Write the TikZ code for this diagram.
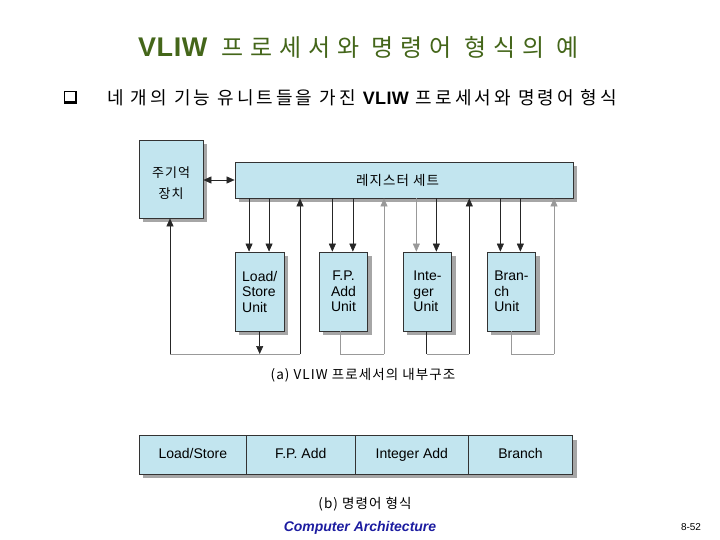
\documentclass[tikz,border=0pt]{standalone}
\usepackage{fontspec}
\setmainfont{Liberation Sans}
\newfontfamily\kr{Noto Sans CJK KR}
\newfontfamily\krwide{Noto Sans CJK KR}[LetterSpace=8]
\newfontfamily\krtitle{Noto Sans CJK KR}[LetterSpace=29]
\newfontfamily\krbul{Noto Sans CJK KR}[LetterSpace=17]
\newfontfamily\latb{Liberation Sans}[LetterSpace=2]
\usetikzlibrary{arrows.meta,calc,shadows}
\definecolor{boxfill}{HTML}{C2E5EF}
\definecolor{shadowgray}{HTML}{A6A6A6}
\definecolor{titlegreen}{HTML}{44661A}
\definecolor{footblue}{HTML}{1C1CA0}
\tikzset{
  shad/.style={drop shadow={shadow xshift=4pt, shadow yshift=-4pt, fill=shadowgray, opacity=1}},
  blk/.style={draw=black!80, fill=boxfill, inner sep=0pt, line width=0.8pt, shad},
  unitbox/.style={blk, minimum width=48.5pt, minimum height=79pt, font=\fontsize{14}{15.5}\selectfont},
  fmt/.style={draw=black!80, fill=boxfill, inner sep=0pt, line width=0.8pt, minimum height=38.6pt, text height=10pt, text depth=3pt, font=\fontsize{14}{16}\selectfont},
  dk/.style={draw=black!85, line width=0.6pt},
  lt/.style={draw=black!40, line width=0.6pt},
  arr/.style={-{Triangle[length=8pt,width=7pt]}},
  darr/.style={{Triangle[length=8pt,width=7pt]}-{Triangle[length=8pt,width=7pt]}},
}
\begin{document}
\begin{tikzpicture}[x=1pt,y=-1pt]
\useasboundingbox (0,0) rectangle (720,540);
% title and bullet
\node[anchor=west, inner sep=0pt, text=titlegreen] (title) at (138,47) {{\latb\bfseries\fontsize{27}{27}\selectfont VLIW}\hspace{14pt}{\krtitle\fontsize{24}{24}\selectfont 프로세서와 명령어 형식의 예}};
\fill[black] (64,91) rectangle (77,104);
\fill[white] (65,92) rectangle (74.5,101.5);
\node[anchor=west, inner sep=0pt, font=\krbul\fontsize{18}{18}\selectfont] (bul) at (107,98) {네 개의 기능 유니트들을 가진 {\latb\bfseries\fontsize{18}{18}\selectfont VLIW} 프로세서와 명령어 형식};
% main boxes
\node[blk, minimum width=64pt, minimum height=78pt] (mem) at (171,179) {};
\node[align=center, font=\krwide\fontsize{13}{21}\selectfont] (memt) at ([yshift=-4pt]mem.center) {주기억\\장치};
\node[blk, minimum width=338pt, minimum height=36pt] (reg) at (404,180) {};
\node[font=\krwide\fontsize{13.5}{13.5}\selectfont] (regt) at (397.5,180) {레지스터 세트};
\node[unitbox, align=left] (ls) at (259.7,291.5) {Load/\\Store\\Unit};
\node[unitbox, align=center] (fp) at (343.5,291.5) {F.P.\\Add\\Unit};
\node[unitbox, align=left] (int) at (427.5,291.5) {Inte-\\ger\\Unit};
\node[unitbox, align=left] (br) at (511.5,291.5) {Bran-\\ch\\Unit};
% memory <-> register
\draw[dk,darr] (reg.west -| mem.east) -- (reg.west);
% inputs
\coordinate (lsA) at ([xshift=14pt]ls.north west);
\coordinate (lsB) at ([xshift=34pt]ls.north west);
\coordinate (fpA) at ([xshift=13.5pt]fp.north west);
\coordinate (fpB) at ([xshift=34pt]fp.north west);
\coordinate (inA) at ([xshift=13.5pt]int.north west);
\coordinate (inB) at ([xshift=33.5pt]int.north west);
\coordinate (brA) at ([xshift=13.5pt]br.north west);
\coordinate (brB) at ([xshift=33.5pt]br.north west);
\draw[dk,arr] (lsA |- reg.south) -- (lsA);
\draw[dk,arr] (lsB |- reg.south) -- (lsB);
\draw[dk,arr] (fpA |- reg.south) -- (fpA);
\draw[dk,arr] (fpB |- reg.south) -- (fpB);
\draw[lt,arr] (inA |- reg.south) -- (inA);
\draw[dk,arr] (inB |- reg.south) -- (inB);
\draw[dk,arr] (brA |- reg.south) -- (brA);
\draw[dk,arr] (brB |- reg.south) -- (brB);
% bus and returns
\coordinate (m1) at (170,354);
\coordinate (r1) at (300,354);
\coordinate (r2) at (384,354);
\coordinate (r3) at (469.3,354);
\coordinate (r4) at (554,354);
\draw[lt] (m1) -- (r1);
\draw[dk,arr] (m1) -- (m1 |- mem.south);
\draw[dk,arr] (r1) -- (r1 |- reg.south);
\draw[dk,arr] (ls.south) -- (ls.south |- m1);
\coordinate (fpo) at ([xshift=-3pt]fp.south);
\draw[lt] (fpo) -- (fpo |- r2) -- (r2);
\draw[lt,arr] (r2) -- (r2 |- reg.south);
\coordinate (ino) at ([xshift=-1pt]int.south);
\draw[dk] (ino) -- (ino |- r3);
\draw[lt] (ino |- r3) -- (r3);
\draw[dk,arr] (r3) -- (r3 |- reg.south);
\draw[lt] (br.south) -- (br.south |- r4) -- (r4);
\draw[lt,arr] (r4) -- (r4 |- reg.south);
\node[font=\krwide\fontsize{13.5}{13.5}\selectfont] (capa) at (363,375) {(a) VLIW 프로세서의 내부구조};
% instruction format
\fill[shadowgray] (143.3,439.7) rectangle (576.7,478.3);
\node[fmt, minimum width=107pt] (f1) at (192.8,455) {Load/Store};
\node[fmt, minimum width=109pt] (f2) at (300.8,455) {F.P. Add};
\node[fmt, minimum width=113pt] (f3) at (411.8,455) {Integer Add};
\node[fmt, minimum width=104.4pt] (f4) at (520.5,455) {Branch};
\node[font=\krwide\fontsize{13.5}{13.5}\selectfont] (capb) at (365,504) {(b) 명령어 형식};
% footer
\node[font=\bfseries\itshape\fontsize{14}{14}\selectfont, text=footblue] (foot) at (360,528) {Computer Architecture};
\node[font=\fontsize{10}{10}\selectfont] (page) at (691,527) {8-52};
\end{tikzpicture}
\end{document}
